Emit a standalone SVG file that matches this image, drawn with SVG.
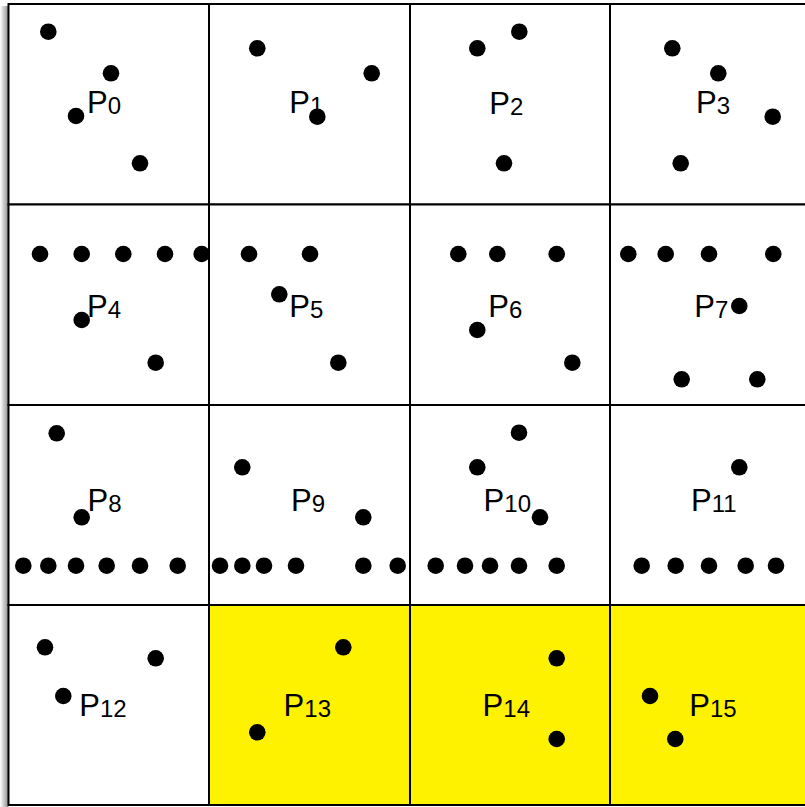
<svg xmlns="http://www.w3.org/2000/svg" width="805" height="807" viewBox="0 0 805 807">
  <defs>
    <linearGradient id="edgeShade" x1="0" y1="0" x2="1" y2="0">
      <stop offset="0" stop-color="#ffffff"/>
      <stop offset="1" stop-color="#8c8c8c"/>
    </linearGradient>
  </defs>
  <style>
    .cell { fill: #ffffff; stroke: #000000; stroke-width: 2; }
    .cell.hl { fill: #fff200; }
    .pt { fill: #000000; }
    .lbl { font-family: "Liberation Sans", Arial, sans-serif; font-size: 31px; fill: #000000; }
    .sub { font-size: 24px; }
  </style>

  <rect x="0" y="0" width="805" height="807" fill="#ffffff"/>
  <!-- soft shade along the left edge of the grid -->
  <rect x="0" y="6" width="8.5" height="801" fill="url(#edgeShade)"/>

  <!-- row 0 -->
  <g id="P0">
    <rect class="cell" x="8.5" y="4" width="200.5" height="200.5"/>
    <circle class="pt" cx="48.3" cy="31.7" r="8.3"/>
    <circle class="pt" cx="111" cy="73.3" r="8.3"/>
    <circle class="pt" cx="76" cy="116" r="8.3"/>
    <circle class="pt" cx="140" cy="163.3" r="8.3"/>
    <text class="lbl" x="87" y="113.3">P<tspan class="sub" dy="1">0</tspan></text>
  </g>
  <g id="P1">
    <rect class="cell" x="209" y="4" width="201" height="200.5"/>
    <circle class="pt" cx="257.3" cy="48.3" r="8.3"/>
    <circle class="pt" cx="371.7" cy="73.3" r="8.3"/>
    <text class="lbl" x="289.3" y="113.3">P<tspan class="sub" dy="1">1</tspan></text>
    <circle class="pt" cx="317.3" cy="116.7" r="8.3"/>
  </g>
  <g id="P2">
    <rect class="cell" x="410" y="4" width="200" height="200.5"/>
    <circle class="pt" cx="477.3" cy="48.3" r="8.3"/>
    <circle class="pt" cx="519.3" cy="31.7" r="8.3"/>
    <circle class="pt" cx="504" cy="163.3" r="8.3"/>
    <text class="lbl" x="489.3" y="113.5">P<tspan class="sub" dy="1">2</tspan></text>
  </g>
  <g id="P3">
    <rect class="cell" x="610" y="4" width="200" height="200.5"/>
    <circle class="pt" cx="672.3" cy="48.3" r="8.3"/>
    <circle class="pt" cx="718.3" cy="73.3" r="8.3"/>
    <circle class="pt" cx="772.7" cy="116.7" r="8.3"/>
    <circle class="pt" cx="680.7" cy="163.3" r="8.3"/>
    <text class="lbl" x="696" y="113.3">P<tspan class="sub" dy="1">3</tspan></text>
  </g>

  <!-- row 1 -->
  <g id="P5">
    <rect class="cell" x="209" y="204.5" width="201" height="200.5"/>
    <circle class="pt" cx="249" cy="254" r="8.3"/>
    <circle class="pt" cx="310" cy="254" r="8.3"/>
    <circle class="pt" cx="279.3" cy="294.3" r="8.3"/>
    <circle class="pt" cx="338.3" cy="362.7" r="8.3"/>
    <text class="lbl" x="289.3" y="317.3">P<tspan class="sub" dy="1">5</tspan></text>
  </g>
  <g id="P4">
    <rect class="cell" x="8.5" y="204.5" width="200.5" height="200.5"/>
    <circle class="pt" cx="40" cy="254" r="8.3"/>
    <circle class="pt" cx="81.7" cy="254" r="8.3"/>
    <circle class="pt" cx="123.3" cy="254" r="8.3"/>
    <circle class="pt" cx="165" cy="254" r="8.3"/>
    <circle class="pt" cx="201.7" cy="254" r="8.3"/>
    <circle class="pt" cx="81.7" cy="320" r="8.3"/>
    <circle class="pt" cx="155.7" cy="362.7" r="8.3"/>
    <text class="lbl" x="87" y="317.3">P<tspan class="sub" dy="1">4</tspan></text>
  </g>
  <g id="P6">
    <rect class="cell" x="410" y="204.5" width="200" height="200.5"/>
    <circle class="pt" cx="458.3" cy="254" r="8.3"/>
    <circle class="pt" cx="497.3" cy="254" r="8.3"/>
    <circle class="pt" cx="556.7" cy="254" r="8.3"/>
    <circle class="pt" cx="477.3" cy="330" r="8.3"/>
    <circle class="pt" cx="572.3" cy="362.7" r="8.3"/>
    <text class="lbl" x="488.3" y="317.3">P<tspan class="sub" dy="1">6</tspan></text>
  </g>
  <g id="P7">
    <rect class="cell" x="610" y="204.5" width="200" height="200.5"/>
    <circle class="pt" cx="628.3" cy="254" r="8.3"/>
    <circle class="pt" cx="665.7" cy="254" r="8.3"/>
    <circle class="pt" cx="709" cy="254" r="8.3"/>
    <circle class="pt" cx="773.3" cy="254" r="8.3"/>
    <text class="lbl" x="694.3" y="317.3">P<tspan class="sub" dy="1">7</tspan></text>
    <circle class="pt" cx="739.3" cy="306" r="8.3"/>
    <circle class="pt" cx="681.7" cy="379.3" r="8.3"/>
    <circle class="pt" cx="757.3" cy="379.3" r="8.3"/>
  </g>

  <!-- row 2 -->
  <g id="P8">
    <rect class="cell" x="8.5" y="405" width="200.5" height="200"/>
    <circle class="pt" cx="56.7" cy="433.3" r="8.3"/>
    <circle class="pt" cx="81.7" cy="517.3" r="8.3"/>
    <circle class="pt" cx="23.3" cy="565.7" r="8.3"/>
    <circle class="pt" cx="48.3" cy="565.7" r="8.3"/>
    <circle class="pt" cx="76" cy="565.7" r="8.3"/>
    <circle class="pt" cx="106.7" cy="565.7" r="8.3"/>
    <circle class="pt" cx="140" cy="565.7" r="8.3"/>
    <circle class="pt" cx="177.7" cy="565.7" r="8.3"/>
    <text class="lbl" x="87.6" y="510.7">P<tspan class="sub" dy="1">8</tspan></text>
  </g>
  <g id="P9">
    <rect class="cell" x="209" y="405" width="201" height="200"/>
    <circle class="pt" cx="242.3" cy="467.3" r="8.3"/>
    <circle class="pt" cx="363.3" cy="517.3" r="8.3"/>
    <circle class="pt" cx="220" cy="565.7" r="8.3"/>
    <circle class="pt" cx="242.3" cy="565.7" r="8.3"/>
    <circle class="pt" cx="264" cy="565.7" r="8.3"/>
    <circle class="pt" cx="296" cy="565.7" r="8.3"/>
    <circle class="pt" cx="363.3" cy="565.7" r="8.3"/>
    <text class="lbl" x="291" y="510.7">P<tspan class="sub" dy="1">9</tspan></text>
  </g>
  <g id="P10">
    <rect class="cell" x="410" y="405" width="200" height="200"/>
    <circle class="pt" cx="519" cy="432.7" r="8.3"/>
    <circle class="pt" cx="477.3" cy="467.3" r="8.3"/>
    <circle class="pt" cx="435.7" cy="565.7" r="8.3"/>
    <circle class="pt" cx="465" cy="565.7" r="8.3"/>
    <circle class="pt" cx="490" cy="565.7" r="8.3"/>
    <circle class="pt" cx="519" cy="565.7" r="8.3"/>
    <circle class="pt" cx="556.7" cy="565.7" r="8.3"/>
    <text class="lbl" x="483.6" y="510.7">P<tspan class="sub" dy="1">10</tspan></text>
    <circle class="pt" cx="540" cy="517.3" r="8.3"/>
  </g>
  <!-- dot straddling the P9/P10 border -->
  <circle class="pt" cx="397.7" cy="565.7" r="8.3"/>
  <g id="P11">
    <rect class="cell" x="610" y="405" width="200" height="200"/>
    <circle class="pt" cx="739.3" cy="467.3" r="8.3"/>
    <circle class="pt" cx="641.7" cy="565.7" r="8.3"/>
    <circle class="pt" cx="675.7" cy="565.7" r="8.3"/>
    <circle class="pt" cx="709" cy="565.7" r="8.3"/>
    <circle class="pt" cx="745.7" cy="565.7" r="8.3"/>
    <circle class="pt" cx="776" cy="565.7" r="8.3"/>
    <text class="lbl" x="691" y="510.7">P<tspan class="sub" dy="1">11</tspan></text>
  </g>

  <!-- row 3 -->
  <g id="P12">
    <rect class="cell" x="8.5" y="605" width="200.5" height="200"/>
    <circle class="pt" cx="45" cy="647.3" r="8.3"/>
    <circle class="pt" cx="155.7" cy="658.3" r="8.3"/>
    <circle class="pt" cx="63.3" cy="696" r="8.3"/>
    <text class="lbl" x="79.3" y="716">P<tspan class="sub" dy="1">12</tspan></text>
  </g>
  <g id="P13">
    <rect class="cell hl" x="209" y="605" width="201" height="200"/>
    <circle class="pt" cx="343.3" cy="647.3" r="8.3"/>
    <circle class="pt" cx="257.3" cy="732.3" r="8.3"/>
    <text class="lbl" x="283.6" y="716">P<tspan class="sub" dy="1">13</tspan></text>
  </g>
  <g id="P14">
    <rect class="cell hl" x="410" y="605" width="200" height="200"/>
    <circle class="pt" cx="556.7" cy="658.3" r="8.3"/>
    <circle class="pt" cx="556.7" cy="739" r="8.3"/>
    <text class="lbl" x="482.6" y="716">P<tspan class="sub" dy="1">14</tspan></text>
  </g>
  <g id="P15">
    <rect class="cell hl" x="610" y="605" width="200" height="200"/>
    <circle class="pt" cx="650" cy="696" r="8.3"/>
    <circle class="pt" cx="675.3" cy="739" r="8.3"/>
    <text class="lbl" x="689.3" y="716">P<tspan class="sub" dy="1">15</tspan></text>
  </g>

  <g id="connectors"/>
</svg>
